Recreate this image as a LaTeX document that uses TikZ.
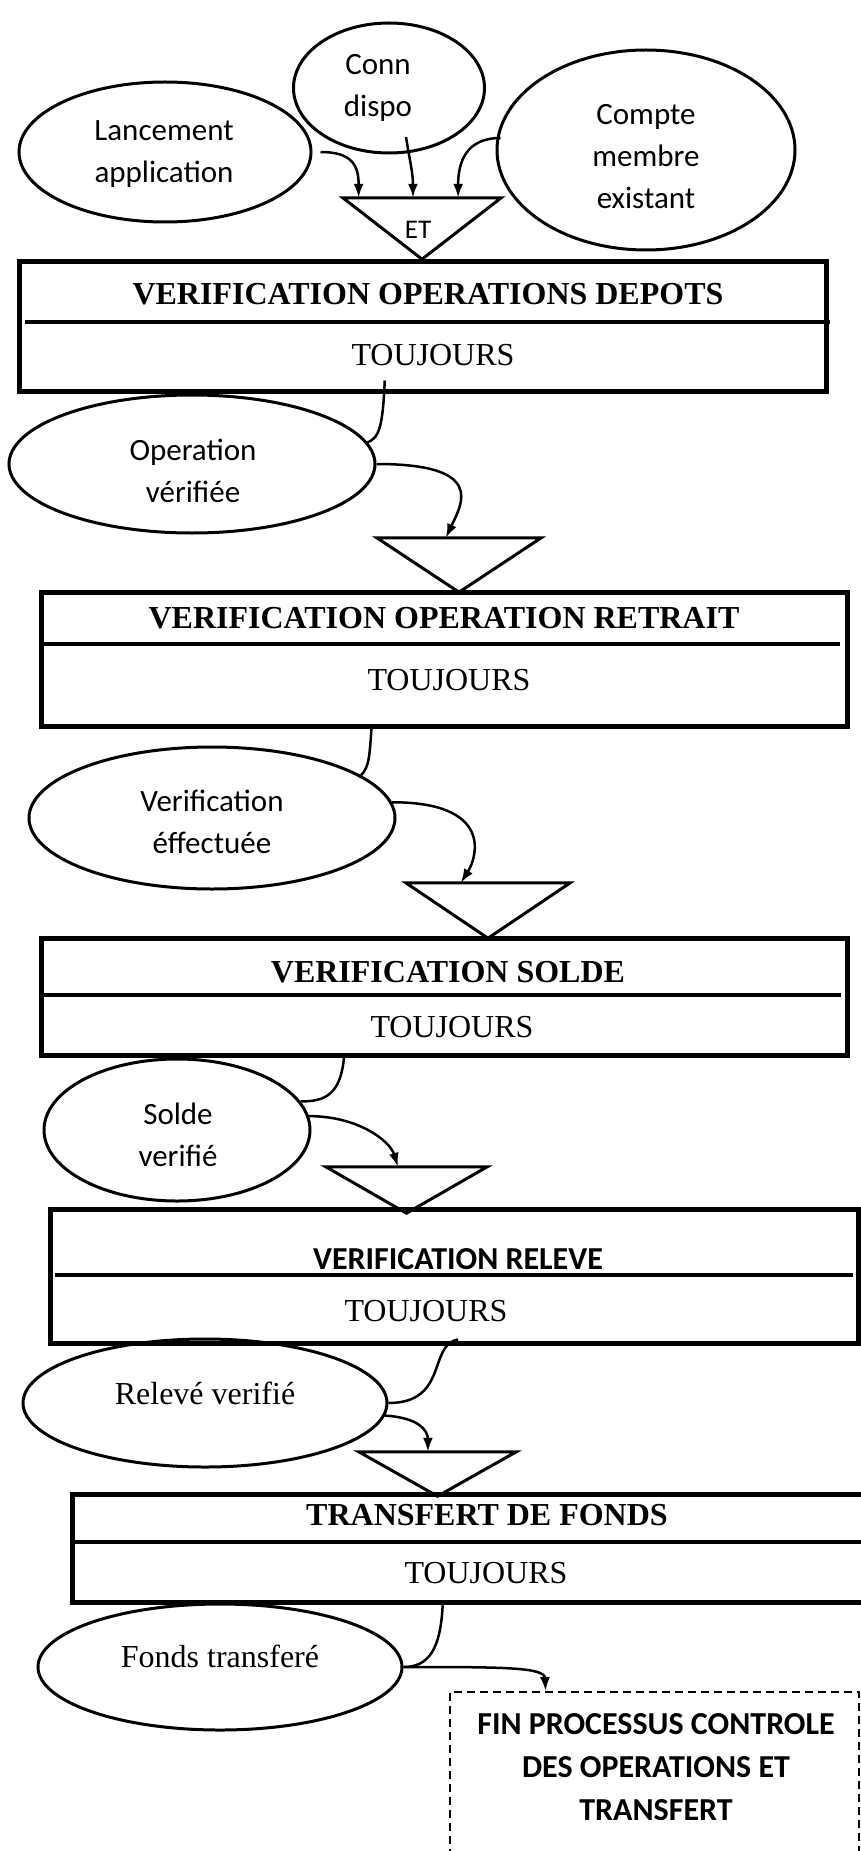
\documentclass[tikz,border=0pt]{standalone}
\usepackage{fontspec}
\setmainfont{Liberation Serif}
\newfontfamily\calfont{Carlito}
\usetikzlibrary{shapes.geometric,arrows.meta,calc}
\begin{document}
\begin{tikzpicture}[x=1pt,y=-1pt,
  ell/.style={ellipse, draw, line width=3pt, inner sep=0pt},
  etxt/.style={align=center, inner sep=0pt, font=\calfont\fontsize{31}{42}\selectfont},
  ttxt/.style={align=center, inner sep=0pt, font=\fontsize{32}{38}\selectfont},
  procbox/.style={draw, line width=5pt, inner sep=0pt},
  ttl/.style={inner sep=0pt, font=\bfseries\fontsize{32}{38}\selectfont},
  cttl/.style={inner sep=0pt, font=\calfont\bfseries\fontsize{32}{38}\selectfont},
  tj/.style={inner sep=0pt, font=\fontsize{32}{38}\selectfont},
  div/.style={line width=3.5pt},
  tribox/.style={rectangle, inner sep=0pt, draw=none},
  tri/.style={line width=3pt, line join=miter},
  conn/.style={line width=2.5pt},
  arr/.style={conn, -{Latex[length=14pt,width=10pt]}}
]
\clip (0,0) rectangle (861,1851);
\fill[white] (0,0) rectangle (861,1851);

% ---- top ellipses
\node[ell, minimum width=292, minimum height=140] (lanc) at (165,152) {};
\node[etxt] (lanct) at (164,154) {Lancement\\application};
\node[ell, minimum width=191, minimum height=130] (conn) at (389,88) {};
\node[etxt] (connt) at (378,88) {Conn\\dispo};
\node[ell, minimum width=298, minimum height=200] (compte) at (646,150) {};
\node[etxt] (comptet) at (646,157) {Compte\\membre\\existant};

% ---- ET triangle
\node[tribox, minimum width=158, minimum height=61] (et) at (422,228.5) {};
\draw[tri] (et.north west) -- (et.north east) -- (et.south) -- cycle;
\node[inner sep=0pt, font=\calfont\fontsize{27}{30}\selectfont] (etl) at (418,230) {ET};

\draw[arr] ([xshift=8pt]lanc.east) .. controls +(32,0) and +(0,-32) .. ($(et.north west)!0.10!(et.north east)$);
\draw[arr] ([xshift=17pt,yshift=-49pt]conn.center) .. controls +(4,25) and +(0,-25) .. ($(et.north west)!0.443!(et.north east)$);
\draw[arr] ([xshift=5pt,yshift=12pt]compte.west) .. controls +(-35,0) and +(0,-35) .. ($(et.north west)!0.728!(et.north east)$);

% ---- box 1
\node[procbox, minimum width=807, minimum height=129] (b1) at (422.5,326.5) {};
\draw[div] (25,322) -- (830,322);
\node[ttl] (b1t) at (428,294) {VERIFICATION OPERATIONS DEPOTS};
\node[tj] (b1j) at (433,355) {TOUJOURS};

\node[ell, minimum width=366, minimum height=138] (opv) at (192,464) {};
\node[etxt] (opvt) at (193,471) {Operation\\vérifiée};
\draw[conn] ([yshift=13pt]$(b1.south west)!0.4535!(b1.south east)$) .. controls +(-2,45) and +(12,-5) .. (opv.7);

\node[tribox, minimum width=164, minimum height=54] (t2) at (459,565) {};
\draw[tri] (t2.north west) -- (t2.north east) -- (t2.south) -- cycle;
\draw[arr] (opv.east) .. controls +(110,0) and +(16,-34) .. ($(t2.north west)!0.42!(t2.north east)$);

% ---- box 2
\node[procbox, minimum width=806, minimum height=134] (b2) at (444,659) {};
\draw[div] (44,644) -- (840,644);
\node[ttl] (b2t) at (444,618) {VERIFICATION OPERATION RETRAIT};
\node[tj] (b2j) at (449,680) {TOUJOURS};

\node[ell, minimum width=366, minimum height=142] (vef) at (212,818) {};
\node[etxt] (veft) at (212,822) {Verification\\éffectuée};
\draw[conn] ([yshift=2pt]$(b2.south west)!0.4107!(b2.south east)$) .. controls +(-2,30) and +(8,-8) .. (vef.16);

\node[tribox, minimum width=164, minimum height=55] (t3) at (488,910.5) {};
\draw[tri] (t3.north west) -- (t3.north east) -- (t3.south) -- cycle;
\draw[arr] (vef.5) .. controls +(100,0) and +(17,-27) .. ($(t3.north west)!0.335!(t3.north east)$);

% ---- box 3
\node[procbox, minimum width=806, minimum height=117] (b3) at (444,996.5) {};
\draw[div] (41,995) -- (841,995);
\node[ttl] (b3t) at (448,972) {VERIFICATION SOLDE};
\node[tj] (b3j) at (452,1027) {TOUJOURS};

\node[ell, minimum width=266, minimum height=142] (solde) at (177,1130) {};
\node[etxt] (soldet) at (178,1135) {Solde\\verifié};
\draw[conn] ([yshift=3pt]$(b3.south west)!0.377!(b3.south east)$) .. controls +(-3,40) and +(25,0) .. (solde.13);

\node[tribox, minimum width=161, minimum height=46] (t4) at (406.5,1190) {};
\draw[tri] (t4.north west) -- (t4.north east) -- (t4.south) -- cycle;
\draw[arr] (solde.6) .. controls +(49,0) and +(-8,-26) .. ($(t4.north west)!0.447!(t4.north east)$);

% ---- box 4
\node[procbox, minimum width=808, minimum height=134] (b4) at (454,1276) {};
\draw[div] (55,1275) -- (853,1275);
\node[cttl] (b4t) at (458,1259) {VERIFICATION RELEVE};
\node[tj] (b4j) at (426,1311) {TOUJOURS};

\node[ell, minimum width=364, minimum height=128] (releve) at (205,1403) {};
\node[ttxt] (relevet) at (205,1393) {Relevé verifié};
\draw[conn] ([yshift=6pt]$(b4.south west)!0.505!(b4.south east)$) .. controls +(-30,5) and +(60,0) .. (releve.east);

\node[tribox, minimum width=157, minimum height=44] (t5) at (437.5,1474) {};
\draw[tri] (t5.north west) -- (t5.north east) -- (t5.south) -- cycle;
\draw[arr] (releve.-4) .. controls +(34,2) and +(0,-21) .. ($(t5.north west)!0.439!(t5.north east)$);

% ---- box 5
\node[procbox, minimum width=828, minimum height=108] (b5) at (486,1548) {};
\draw[div] (75,1542) -- (861,1542);
\node[ttl] (b5t) at (487,1515) {TRANSFERT DE FONDS};
\node[tj] (b5j) at (486,1573) {TOUJOURS};

\node[ell, minimum width=364, minimum height=126] (fonds) at (220,1667) {};
\node[ttxt] (fondst) at (220,1656) {Fonds transferé};
\draw[conn] ($(b5.south west)!0.448!(b5.south east)$) .. controls +(-2,45) and +(25,0) .. (fonds.east);

% ---- end box
\node[draw, dash pattern=on 8pt off 5pt, line width=2pt, inner sep=0pt, minimum width=409, minimum height=208] (fin) at (654.5,1796) {};
\node[align=center, inner sep=0pt, font=\calfont\bfseries\fontsize{32}{43}\selectfont] (fint) at (656,1767) {FIN PROCESSUS CONTROLE\\DES OPERATIONS ET\\TRANSFERT};
\draw[arr] (fonds.east) .. controls +(98,0) and +(-1,-24) .. ($(fin.north west)!0.235!(fin.north east)$);
\end{tikzpicture}
\end{document}
